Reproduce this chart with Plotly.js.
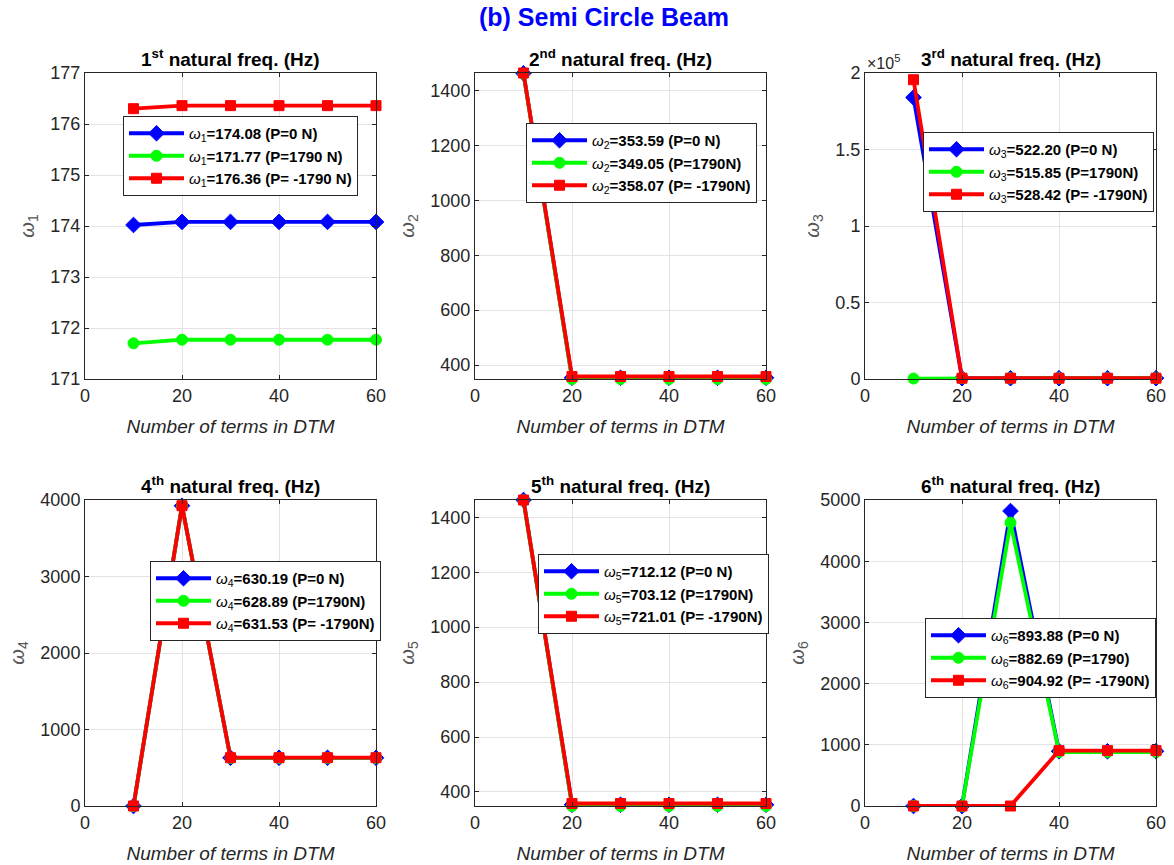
<!DOCTYPE html>
<html>
<head>
<meta charset="utf-8">
<script src="https://cdn.plot.ly/plotly-3.0.1.min.js"></script>
<style>html,body{margin:0;padding:0;background:#fff;}#chart{width:1174px;height:865px;}</style>
</head>
<body>
<div id="chart"></div>
<script>
// Number of terms in DTM
const terms = [10, 20, 30, 40, 50, 60];

// 1st natural frequency
const w1_P0 = [174.02, 174.08, 174.08, 174.08, 174.08, 174.08];
const w1_Pp = [171.70, 171.77, 171.77, 171.77, 171.77, 171.77];
const w1_Pm = [176.30, 176.36, 176.36, 176.36, 176.36, 176.36];
// 2nd
const w2_P0 = [1463, 353.59, 353.59, 353.59, 353.59, 353.59];
const w2_Pp = [1462, 349.05, 349.05, 349.05, 349.05, 349.05];
const w2_Pm = [1464, 358.07, 358.07, 358.07, 358.07, 358.07];
// 3rd
const w3_P0 = [184000, 522.20, 522.20, 522.20, 522.20, 522.20];
const w3_Pp = [300, 515.85, 515.85, 515.85, 515.85, 515.85];
const w3_Pm = [195600, 528.42, 528.42, 528.42, 528.42, 528.42];
// 4th
const w4_P0 = [0, 3925, 630.19, 630.19, 630.19, 630.19];
const w4_Pp = [0, 3925, 628.89, 628.89, 628.89, 628.89];
const w4_Pm = [0, 3925, 631.53, 631.53, 631.53, 631.53];
// 5th
const w5_P0 = [1463, 353.6, 353.6, 353.6, 353.6, 353.6];
const w5_Pp = [1462, 349.1, 349.1, 349.1, 349.1, 349.1];
const w5_Pm = [1463, 358.1, 358.1, 358.1, 358.1, 358.1];
// 6th
const w6_P0 = [0, 0, 4820, 893.88, 893.88, 893.88];
const w6_Pp = [0, 0, 4630, 882.69, 882.69, 882.69];
const w6_Pm = [0, 0, 0, 904.92, 904.92, 904.92];

// legend labels
const labels = [
  ["174.08 (P=0 N)", "171.77 (P=1790 N)", "176.36 (P= -1790 N)"],
  ["353.59 (P=0 N)", "349.05 (P=1790N)", "358.07 (P= -1790N)"],
  ["522.20 (P=0 N)", "515.85 (P=1790N)", "528.42 (P= -1790N)"],
  ["630.19 (P=0 N)", "628.89 (P=1790N)", "631.53 (P= -1790N)"],
  ["712.12 (P=0 N)", "703.12 (P=1790N)", "721.01 (P= -1790N)"],
  ["893.88 (P=0 N)", "882.69 (P=1790)", "904.92 (P= -1790N)"]
];
const ordinals = ["st", "nd", "rd", "th", "th", "th"];

const seriesData = [
  [w1_P0, w1_Pp, w1_Pm],
  [w2_P0, w2_Pp, w2_Pm],
  [w3_P0, w3_Pp, w3_Pm],
  [w4_P0, w4_Pp, w4_Pm],
  [w5_P0, w5_Pp, w5_Pm],
  [w6_P0, w6_Pp, w6_Pm]
];

const styles = [
  {color: "#0000ff", symbol: "diamond", size: 12},
  {color: "#00ff00", symbol: "circle", size: 11},
  {color: "#ff0000", symbol: "square", size: 10}
];

const W = 1174, H = 865;
const colsPx = [[85, 376], [475, 766], [865, 1156]];
const rowsPx = [[73, 379], [500, 806]];
const legendPx = [[123, 116], [526, 123], [923, 132], [150, 561], [538, 554], [925, 618]];

const yRanges = [[171, 177], [349, 1464], [0, 200000], [0, 4000], [349, 1463], [0, 5000]];
const yTicks = [
  {tickvals: [171,172,173,174,175,176,177]},
  {tickvals: [400,600,800,1000,1200,1400]},
  {tickvals: [0,50000,100000,150000,200000], ticktext: ["0","0.5","1","1.5","2"]},
  {tickvals: [0,1000,2000,3000,4000]},
  {tickvals: [400,600,800,1000,1200,1400]},
  {tickvals: [0,1000,2000,3000,4000,5000]}
];

const traces = [];
const layout = {
  width: W, height: H,
  margin: {l: 0, r: 0, t: 0, b: 0},
  paper_bgcolor: "#ffffff",
  plot_bgcolor: "#ffffff",
  font: {family: "Liberation Sans, Arial, sans-serif", color: "#262626"},
  annotations: [],
  showlegend: true
};

for (let k = 0; k < 6; k++) {
  const r = Math.floor(k / 3), c = k % 3;
  const sfx = k === 0 ? "" : String(k + 1);
  const xa = "x" + sfx, ya = "y" + sfx, lg = "legend" + sfx;
  for (let s = 0; s < 3; s++) {
    traces.push({
      x: terms, y: seriesData[k][s],
      xaxis: xa, yaxis: ya, legend: lg,
      type: "scatter", mode: "lines+markers",
      cliponaxis: false,
      name: "<i>ω</i><sub>" + (k + 1) + "</sub><b>=" + labels[k][s] + "</b>",
      line: {color: styles[s].color, width: 3.8},
      marker: {color: styles[s].color, symbol: styles[s].symbol, size: styles[s].size,
               line: {color: styles[s].color, width: 1}}
    });
  }
  const xd = [colsPx[c][0] / W, colsPx[c][1] / W];
  const yd = [1 - rowsPx[r][1] / H, 1 - rowsPx[r][0] / H];
  layout["xaxis" + sfx] = {
    domain: xd, anchor: ya, range: [0, 60],
    tickvals: [0, 20, 40, 60],
    showgrid: true, gridcolor: "#e3e3e3", gridwidth: 1,
    showline: true, linecolor: "#262626", linewidth: 1, mirror: "ticks",
    ticks: "inside", ticklen: 4, tickcolor: "#262626",
    zeroline: false,
    tickfont: {size: 18, color: "#262626"},
    title: {text: "<i>Number of terms in DTM</i>", font: {size: 19, color: "#262626"}, standoff: 15}
  };
  layout["yaxis" + sfx] = Object.assign({
    domain: yd, anchor: xa, range: yRanges[k],
    showgrid: true, gridcolor: "#e3e3e3", gridwidth: 1,
    showline: true, linecolor: "#262626", linewidth: 1, mirror: "ticks",
    ticks: "inside", ticklen: 4, tickcolor: "#262626",
    zeroline: false,
    tickfont: {size: 18, color: "#262626"},
    title: {text: "<i>ω</i><sub>" + (k + 1) + "</sub>", font: {size: 20, color: "#555555"}, standoff: 10}
  }, yTicks[k]);
  layout[lg] = {
    x: legendPx[k][0] / W, y: 1 - legendPx[k][1] / H,
    xanchor: "left", yanchor: "top",
    bgcolor: "#ffffff", bordercolor: "#262626", borderwidth: 1,
    font: {size: 15, color: "#000000", family: "Liberation Sans, Arial, sans-serif"},
    itemwidth: 55, tracegroupgap: 0
  };
  layout.annotations.push({
    xref: "paper", yref: "paper",
    x: (colsPx[c][0] + colsPx[c][1]) / 2 / W, y: 1 - (rowsPx[r][0] - 15) / H,
    xanchor: "center", yanchor: "middle", showarrow: false,
    text: "<b>" + (k + 1) + "<sup>" + ordinals[k] + "</sup> natural freq. (Hz)</b>",
    font: {size: 19, color: "#000000"}
  });
}

layout.annotations.push({
  xref: "paper", yref: "paper", x: 604 / W, y: 1 - 17 / H,
  xanchor: "center", yanchor: "middle", showarrow: false,
  text: "<b>(b) Semi Circle Beam</b>",
  font: {size: 25, color: "#0000ff"}
});
layout.annotations.push({
  xref: "paper", yref: "paper", x: 865 / W, y: 1 - 62 / H,
  xanchor: "left", yanchor: "middle", showarrow: false,
  text: "×10<sup>5</sup>",
  font: {size: 16, color: "#262626"}
});

Plotly.newPlot("chart", traces, layout, {staticPlot: true});
</script>
</body>
</html>
